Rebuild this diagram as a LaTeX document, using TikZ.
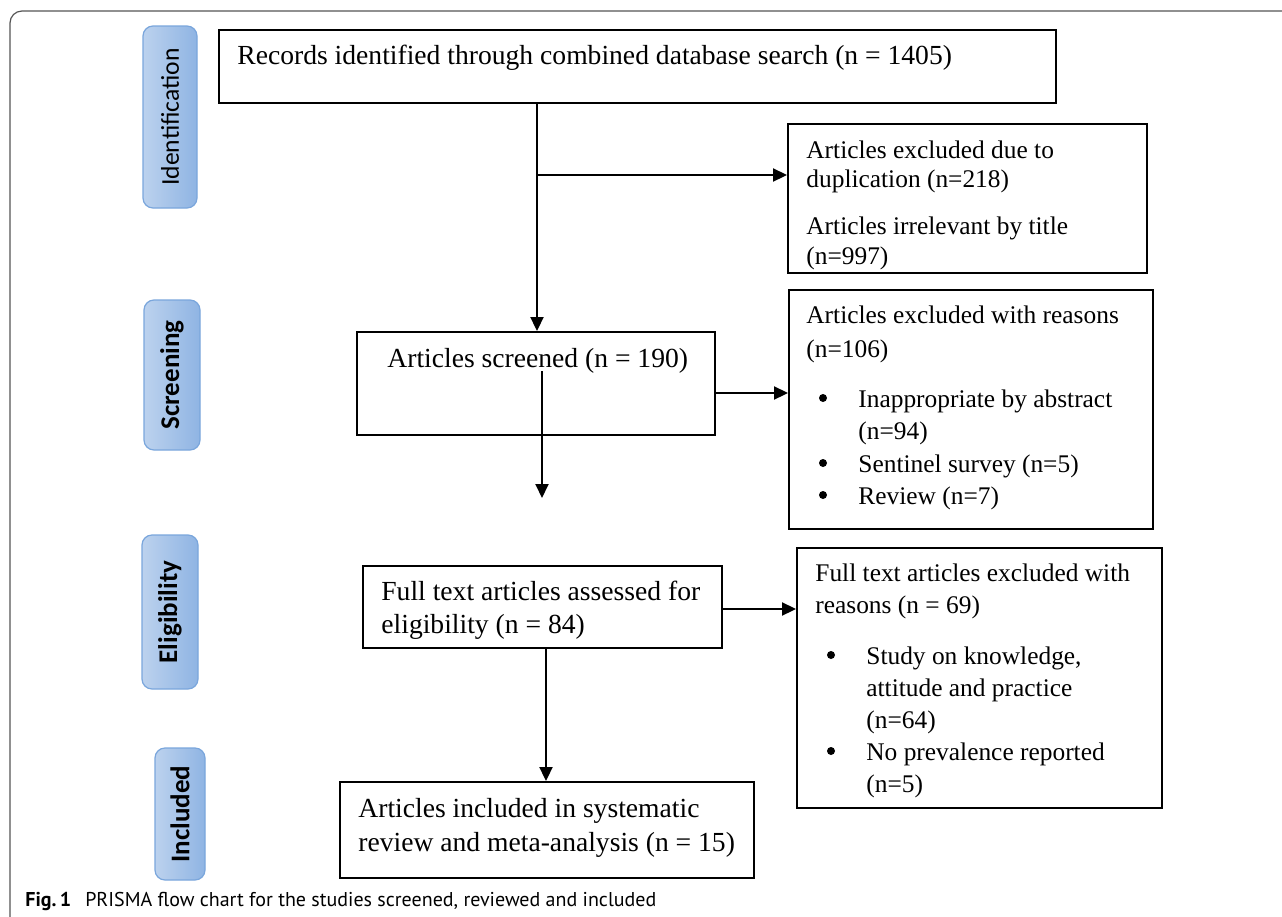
\documentclass[tikz,border=0pt]{standalone}
\usepackage{fontspec}
\setmainfont{Liberation Serif}
\newfontfamily\labfont{Carlito}
\newfontfamily\capfont{PT Sans}
\usetikzlibrary{arrows.meta,fit}
\definecolor{phaseL}{HTML}{BCD2EE}
\definecolor{phaseR}{HTML}{8FB4E3}
\definecolor{phaseedge}{HTML}{7AA6DC}
\definecolor{framec}{HTML}{555555}
\begin{document}
\begin{tikzpicture}[x=0.5pt,y=-0.5pt,
 box/.style={draw=black,line width=0.95pt,inner sep=0pt},
 txt/.style={anchor=base west,inner sep=0pt,font=\fontsize{13.8}{16}\selectfont},
 stxt/.style={anchor=base west,inner sep=0pt,font=\fontsize{12.7}{15}\selectfont},
 bul/.style={circle,fill=black,inner sep=0pt,minimum size=4pt},
 phase/.style={draw=phaseedge,line width=0.6pt,rounded corners=5pt,left color=phaseL,right color=phaseR,inner sep=0pt},
 ptext/.style={rotate=90,inner sep=0pt,font=\labfont\bfseries\fontsize{13.5}{16}\selectfont},
 ptextreg/.style={rotate=90,inner sep=0pt,font=\labfont\fontsize{12.8}{16}\selectfont},
 arr/.style={line width=0.95pt,-{Triangle[length=7pt,width=6.5pt]}},
]
\path[clip] (0,0) rectangle (1282,917);
\fill[white] (0,0) rectangle (1282,917);
% outer frame
\draw[framec,line width=0.6pt,rounded corners=6pt] (10,940) -- (10,11) -- (1300,11);

% phase labels
\node[phase,fit={(143,26) (197,208)}] (idb) {};
\node[ptextreg] (idt) at (idb.center) {Identification};
\node[phase,fit={(144,300) (200,450)}] (scb) {};
\node[ptext] (sct) at (scb.center) {Screening};
\node[phase,fit={(142,535) (198,689)}] (elb) {};
\node[ptext] (elt) at (elb.center) {Eligibility};
\node[phase,fit={(155,748) (205,880)}] (inb) {};
\node[ptext] (int) at (inb.center) {Included};

% boxes
\node[box,fit={(219,30) (1056,103)}] (rec) {};
\node[txt] (rect) at (237,64) {Records identified through combined database search (n = 1405)};

\node[box,fit={(788,124) (1147,273)}] (dup) {};
\node[stxt] (dup1) at (806,158) {Articles excluded due to};
\node[stxt] (dup2) at (806,187) {duplication (n=218)};
\node[stxt] (dup3) at (806,234) {Articles irrelevant by title};
\node[stxt] (dup4) at (806,264) {(n=997)};

\node[box,fit={(357,332) (715,435)}] (scr) {};
\node[txt] (scrt) at (387,367) {Articles screened (n = 190)};

\node[box,fit={(789,290) (1153,529)}] (rsn) {};
\node[stxt] (rsn1) at (806,323) {Articles excluded with reasons};
\node[stxt] (rsn2) at (806,357) {(n=106)};
\node[bul] (rb1) at (823,398) {};
\node[stxt] (rsn3) at (858,407) {Inappropriate by abstract};
\node[stxt] (rsn4) at (858,439) {(n=94)};
\node[bul] (rb2) at (823,463) {};
\node[stxt] (rsn5) at (858,472) {Sentinel survey (n=5)};
\node[bul] (rb3) at (823,495) {};
\node[stxt] (rsn6) at (858,504) {Review (n=7)};

\node[box,fit={(363,566) (722,648)}] (ft) {};
\node[txt] (ft1) at (381,600) {Full text articles assessed for};
\node[txt] (ft2) at (381,633) {eligibility (n = 84)};

\node[box,fit={(797,548) (1162,808)}] (fte) {};
\node[stxt] (fte1) at (815,581) {Full text articles excluded with};
\node[stxt] (fte2) at (815,613) {reasons (n = 69)};
\node[bul] (fb1) at (831,655) {};
\node[stxt] (fte3) at (866,664) {Study on knowledge,};
\node[stxt] (fte4) at (866,696) {attitude and practice};
\node[stxt] (fte5) at (866,728) {(n=64)};
\node[bul] (fb2) at (831,751) {};
\node[stxt] (fte6) at (866,760) {No prevalence reported};
\node[stxt] (fte7) at (866,792) {(n=5)};

\node[box,fit={(340,782) (754,878)}] (inc) {};
\node[txt] (inc1) at (358,817) {Articles included in systematic};
\node[txt] (inc2) at (358,851) {review and meta-analysis (n = 15)};

% connectors
\coordinate (b1) at (537,175);
\draw[line width=0.95pt] (b1 |- rec.south) -- (b1);
\draw[arr] (b1) -- (b1 |- scr.north);
\draw[arr] (b1) -- (b1 -| dup.west);

\coordinate (s1) at (542,371);
\coordinate (s2) at (542,498);
\draw[arr] (s1) -- (s2);

\coordinate (c2) at (715,393);
\draw[arr] (c2 -| scr.east) -- (c2 -| rsn.west);

\coordinate (c3) at (722,609);
\draw[arr] (c3 -| ft.east) -- (c3 -| fte.west);

\coordinate (c4) at (546,700);
\draw[arr] (c4 |- ft.south) -- (c4 |- inc.north);

% caption
\node[anchor=base west,inner sep=0pt,font=\capfont\fontsize{10}{12}\selectfont] (cap) at (25,906) {\textbf{Fig.\,1}\hspace{0.7em}PRISMA flow chart for the studies screened, reviewed and included};
\end{tikzpicture}
\end{document}
